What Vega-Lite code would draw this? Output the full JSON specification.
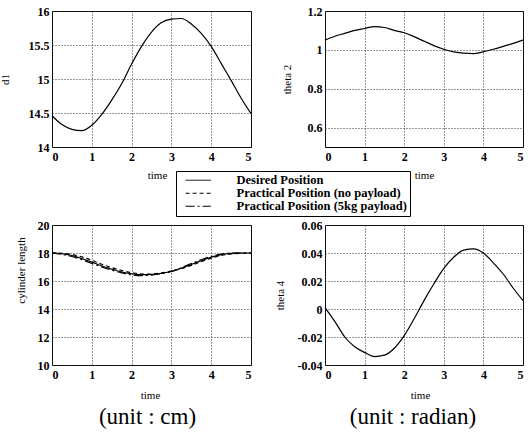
{
  "$schema": "https://vega.github.io/schema/vega-lite/v6.json",
  "padding": {"left": -2, "top": 4, "right": 0, "bottom": 0},
  "background": "white",
  "datasets": {
    "d1": [
      {"time": 0, "value": 14.46}, {"time": 0.25, "value": 14.33}, {"time": 0.5, "value": 14.26},
      {"time": 0.75, "value": 14.24}, {"time": 1, "value": 14.32}, {"time": 1.25, "value": 14.48},
      {"time": 1.5, "value": 14.69}, {"time": 1.75, "value": 14.93}, {"time": 2, "value": 15.22},
      {"time": 2.25, "value": 15.48}, {"time": 2.5, "value": 15.69}, {"time": 2.75, "value": 15.83},
      {"time": 3, "value": 15.88}, {"time": 3.25, "value": 15.89}, {"time": 3.5, "value": 15.81},
      {"time": 3.75, "value": 15.67}, {"time": 4, "value": 15.48}, {"time": 4.25, "value": 15.23},
      {"time": 4.5, "value": 14.98}, {"time": 4.75, "value": 14.72}, {"time": 5, "value": 14.49}
    ],
    "theta2": [
      {"time": 0, "value": 1.05}, {"time": 0.25, "value": 1.07}, {"time": 0.5, "value": 1.085},
      {"time": 0.75, "value": 1.1}, {"time": 1, "value": 1.11}, {"time": 1.25, "value": 1.12},
      {"time": 1.5, "value": 1.115}, {"time": 1.75, "value": 1.1}, {"time": 2, "value": 1.088},
      {"time": 2.25, "value": 1.068}, {"time": 2.5, "value": 1.045}, {"time": 2.75, "value": 1.022},
      {"time": 3, "value": 1.003}, {"time": 3.25, "value": 0.99}, {"time": 3.5, "value": 0.983},
      {"time": 3.75, "value": 0.981}, {"time": 4, "value": 0.99}, {"time": 4.25, "value": 1.003},
      {"time": 4.5, "value": 1.018}, {"time": 4.75, "value": 1.033}, {"time": 5, "value": 1.05}
    ],
    "cyl": [
      {"time": 0, "value": 18.0, "series": "Desired Position"},
      {"time": 0.25, "value": 17.95, "series": "Desired Position"},
      {"time": 0.5, "value": 17.82, "series": "Desired Position"},
      {"time": 0.75, "value": 17.6, "series": "Desired Position"},
      {"time": 1, "value": 17.35, "series": "Desired Position"},
      {"time": 1.25, "value": 17.08, "series": "Desired Position"},
      {"time": 1.5, "value": 16.85, "series": "Desired Position"},
      {"time": 1.75, "value": 16.65, "series": "Desired Position"},
      {"time": 2, "value": 16.52, "series": "Desired Position"},
      {"time": 2.25, "value": 16.45, "series": "Desired Position"},
      {"time": 2.5, "value": 16.47, "series": "Desired Position"},
      {"time": 2.75, "value": 16.55, "series": "Desired Position"},
      {"time": 3, "value": 16.7, "series": "Desired Position"},
      {"time": 3.25, "value": 16.92, "series": "Desired Position"},
      {"time": 3.5, "value": 17.18, "series": "Desired Position"},
      {"time": 3.75, "value": 17.45, "series": "Desired Position"},
      {"time": 4, "value": 17.7, "series": "Desired Position"},
      {"time": 4.25, "value": 17.88, "series": "Desired Position"},
      {"time": 4.5, "value": 17.97, "series": "Desired Position"},
      {"time": 4.75, "value": 18.0, "series": "Desired Position"},
      {"time": 5, "value": 18.0, "series": "Desired Position"},
      {"time": 0, "value": 18.0, "series": "Practical Position (no payload)"},
      {"time": 0.25, "value": 17.98, "series": "Practical Position (no payload)"},
      {"time": 0.5, "value": 17.9, "series": "Practical Position (no payload)"},
      {"time": 0.75, "value": 17.72, "series": "Practical Position (no payload)"},
      {"time": 1, "value": 17.48, "series": "Practical Position (no payload)"},
      {"time": 1.25, "value": 17.2, "series": "Practical Position (no payload)"},
      {"time": 1.5, "value": 16.96, "series": "Practical Position (no payload)"},
      {"time": 1.75, "value": 16.75, "series": "Practical Position (no payload)"},
      {"time": 2, "value": 16.6, "series": "Practical Position (no payload)"},
      {"time": 2.25, "value": 16.5, "series": "Practical Position (no payload)"},
      {"time": 2.5, "value": 16.5, "series": "Practical Position (no payload)"},
      {"time": 2.75, "value": 16.58, "series": "Practical Position (no payload)"},
      {"time": 3, "value": 16.7, "series": "Practical Position (no payload)"},
      {"time": 3.25, "value": 16.88, "series": "Practical Position (no payload)"},
      {"time": 3.5, "value": 17.12, "series": "Practical Position (no payload)"},
      {"time": 3.75, "value": 17.38, "series": "Practical Position (no payload)"},
      {"time": 4, "value": 17.63, "series": "Practical Position (no payload)"},
      {"time": 4.25, "value": 17.82, "series": "Practical Position (no payload)"},
      {"time": 4.5, "value": 17.93, "series": "Practical Position (no payload)"},
      {"time": 4.75, "value": 17.98, "series": "Practical Position (no payload)"},
      {"time": 5, "value": 18.0, "series": "Practical Position (no payload)"},
      {"time": 0, "value": 18.0, "series": "Practical Position (5kg payload)"},
      {"time": 0.25, "value": 17.9, "series": "Practical Position (5kg payload)"},
      {"time": 0.5, "value": 17.75, "series": "Practical Position (5kg payload)"},
      {"time": 0.75, "value": 17.52, "series": "Practical Position (5kg payload)"},
      {"time": 1, "value": 17.26, "series": "Practical Position (5kg payload)"},
      {"time": 1.25, "value": 17.0, "series": "Practical Position (5kg payload)"},
      {"time": 1.5, "value": 16.77, "series": "Practical Position (5kg payload)"},
      {"time": 1.75, "value": 16.58, "series": "Practical Position (5kg payload)"},
      {"time": 2, "value": 16.44, "series": "Practical Position (5kg payload)"},
      {"time": 2.25, "value": 16.38, "series": "Practical Position (5kg payload)"},
      {"time": 2.5, "value": 16.42, "series": "Practical Position (5kg payload)"},
      {"time": 2.75, "value": 16.52, "series": "Practical Position (5kg payload)"},
      {"time": 3, "value": 16.68, "series": "Practical Position (5kg payload)"},
      {"time": 3.25, "value": 16.95, "series": "Practical Position (5kg payload)"},
      {"time": 3.5, "value": 17.25, "series": "Practical Position (5kg payload)"},
      {"time": 3.75, "value": 17.52, "series": "Practical Position (5kg payload)"},
      {"time": 4, "value": 17.76, "series": "Practical Position (5kg payload)"},
      {"time": 4.25, "value": 17.92, "series": "Practical Position (5kg payload)"},
      {"time": 4.5, "value": 17.99, "series": "Practical Position (5kg payload)"},
      {"time": 4.75, "value": 18.0, "series": "Practical Position (5kg payload)"},
      {"time": 5, "value": 18.0, "series": "Practical Position (5kg payload)"}
    ],
    "theta4": [
      {"time": 0, "value": 0.001}, {"time": 0.25, "value": -0.009}, {"time": 0.5, "value": -0.02},
      {"time": 0.75, "value": -0.027}, {"time": 1, "value": -0.031}, {"time": 1.25, "value": -0.034},
      {"time": 1.5, "value": -0.033}, {"time": 1.75, "value": -0.028}, {"time": 2, "value": -0.019},
      {"time": 2.25, "value": -0.007}, {"time": 2.5, "value": 0.006}, {"time": 2.75, "value": 0.018},
      {"time": 3, "value": 0.029}, {"time": 3.25, "value": 0.037}, {"time": 3.5, "value": 0.042},
      {"time": 3.75, "value": 0.043}, {"time": 4, "value": 0.04}, {"time": 4.25, "value": 0.033},
      {"time": 4.5, "value": 0.025}, {"time": 4.75, "value": 0.015}, {"time": 5, "value": 0.006}
    ]
  },
  "columns": 2,
  "bounds": "flush",
  "align": "each",
  "spacing": {"row": 78, "column": 74},
  "concat": [
    {
      "width": 199, "height": 136,
      "data": {"name": "d1"},
      "mark": {"type": "line", "color": "black", "strokeWidth": 1.2, "interpolate": "monotone"},
      "encoding": {
        "x": {"field": "time", "type": "quantitative", "scale": {"domain": [0, 5], "nice": false},
              "axis": {"title": "time", "values": [0, 1, 2, 3, 4, 5], "titleX": 105, "titleY": 22}},
        "y": {"field": "value", "type": "quantitative", "scale": {"domain": [14, 16], "nice": false, "zero": false},
              "axis": {"title": "d1", "values": [14, 14.5, 15, 15.5, 16], "titleX": -42, "labelExpr": "'' + datum.value"}}
      }
    },
    {
      "width": 198, "height": 136,
      "data": {"name": "theta2"},
      "mark": {"type": "line", "color": "black", "strokeWidth": 1.2, "interpolate": "monotone"},
      "encoding": {
        "x": {"field": "time", "type": "quantitative", "scale": {"domain": [0, 5], "nice": false},
              "axis": {"title": "time", "values": [0, 1, 2, 3, 4, 5], "titleX": 99, "titleY": 22}},
        "y": {"field": "value", "type": "quantitative", "scale": {"domain": [0.5, 1.2], "nice": false, "zero": false},
              "axis": {"title": "theta 2", "values": [0.6, 0.8, 1, 1.2], "titleX": -33, "labelExpr": "'' + datum.value"}}
      }
    },
    {
      "width": 199, "height": 140,
      "data": {"name": "cyl"},
      "title": {"text": "(unit : cm)", "orient": "bottom", "offset": 6, "dx": -4},
      "mark": {"type": "line", "color": "black", "strokeWidth": 1.2, "interpolate": "monotone"},
      "encoding": {
        "x": {"field": "time", "type": "quantitative", "scale": {"domain": [0, 5], "nice": false},
              "axis": {"title": "time", "values": [0, 1, 2, 3, 4, 5], "titleX": 98, "titleY": 24}},
        "y": {"field": "value", "type": "quantitative", "scale": {"domain": [10, 20], "nice": false, "zero": false},
              "axis": {"title": "cylinder length", "values": [10, 12, 14, 16, 18, 20], "titleX": -26, "titleY": 45, "labelExpr": "'' + datum.value"}},
        "strokeDash": {
          "field": "series", "type": "nominal",
          "scale": {"domain": ["Desired Position", "Practical Position (no payload)", "Practical Position (5kg payload)"],
                    "range": [[1, 0], [4, 3], [9, 3, 2, 3]]},
          "legend": {
            "orient": "none", "legendX": 124, "legendY": 160, "title": null,
            "strokeColor": "black", "fillColor": "white", "padding": 3,
            "symbolType": "M-2.3,0H2.3", "symbolSize": 121, "symbolStrokeColor": "black", "symbolStrokeWidth": 1,
            "symbolFillColor": "transparent",
            "symbolOffset": 13, "labelOffset": 32, "labelFont": "Liberation Serif", "labelFontSize": 12.5,
            "labelFontWeight": "bold", "labelColor": "black", "rowPadding": 0, "labelLimit": 300
          }
        }
      }
    },
    {
      "width": 198, "height": 140,
      "data": {"name": "theta4"},
      "title": {"text": "(unit : radian)", "orient": "bottom", "offset": 6, "dx": -11},
      "mark": {"type": "line", "color": "black", "strokeWidth": 1.2, "interpolate": "monotone"},
      "encoding": {
        "x": {"field": "time", "type": "quantitative", "scale": {"domain": [0, 5], "nice": false},
              "axis": {"title": "time", "values": [0, 1, 2, 3, 4, 5], "titleX": 95, "titleY": 24}},
        "y": {"field": "value", "type": "quantitative", "scale": {"domain": [-0.04, 0.06], "nice": false, "zero": false},
              "axis": {"title": "theta 4", "values": [-0.04, -0.02, 0, 0.02, 0.04, 0.06], "titleX": -40, "labelExpr": "'' + datum.value"}}
      }
    }
  ],
  "config": {
    "view": {"stroke": "black", "strokeWidth": 1},
    "axis": {
      "grid": true, "gridColor": "#333333", "gridDash": [1, 2], "gridWidth": 1, "gridOpacity": 1,
      "domain": false, "ticks": false,
      "labelFont": "Liberation Serif", "labelFontSize": 12, "labelFontWeight": "bold", "labelColor": "black",
      "labelPadding": 3,
      "titleFont": "Liberation Serif", "titleFontSize": 11, "titleFontWeight": "normal", "titleColor": "black"
    },
    "axisX": {"labelPadding": 4},
    "title": {"font": "Liberation Serif", "fontSize": 23, "fontWeight": "normal", "color": "black"}
  }
}
